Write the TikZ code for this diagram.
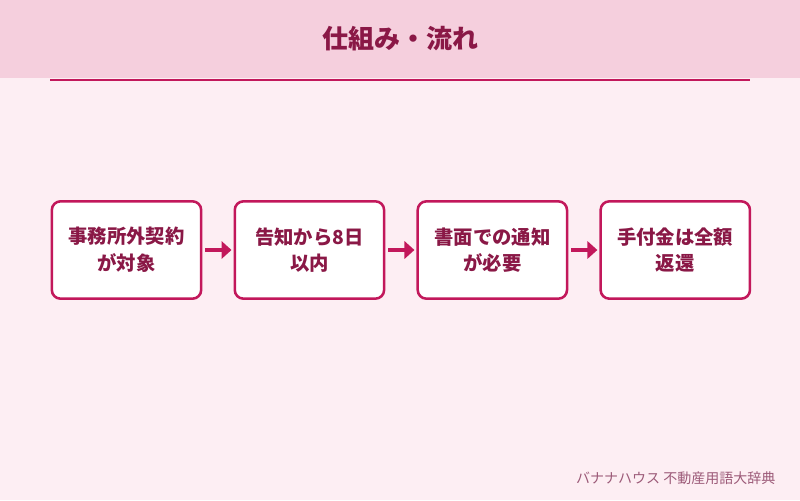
\documentclass[tikz,border=0pt]{standalone}
\usepackage{fontspec}
\setmainfont{Noto Sans CJK JP}
\usetikzlibrary{arrows.meta,positioning}
\definecolor{pagebg}{HTML}{FDEEF3}
\definecolor{headbg}{HTML}{F5CFDD}
\definecolor{rose}{HTML}{C2185B}
\definecolor{wine}{HTML}{8A1846}
\definecolor{muted}{HTML}{9C5A78}
\tikzset{
  every node/.style={text=wine},
  stepbox/.style={draw=rose, fill=white, line width=1.9pt, rounded corners=6.5pt,
                  minimum width=112pt, minimum height=73pt, align=center,
                  font=\bfseries\fontsize{14.5}{20}\selectfont, inner sep=0pt},
  flow/.style={-{Triangle[length=7.5pt, width=13pt]}, line width=3pt, draw=rose,
               shorten <=2pt, shorten >=1.5pt},
}
\begin{document}
\begin{tikzpicture}[x=0.75pt, y=-0.75pt, node distance=23.3pt]
  \useasboundingbox (0,0) rectangle (800,500);
  \fill[pagebg] (0,0) rectangle (800,500);
  \fill[headbg] (0,0) rectangle (800,78);
  \node[font=\bfseries\fontsize{19.5}{22}\selectfont] (title) at (400,39) {仕組み・流れ};
  \coordinate (ruleL) at (50,80);
  \coordinate (ruleR) at (750,80);
  \draw[rose, line width=1.5pt] (ruleL) -- (ruleR);

  \node[stepbox] (s1) at (126.5,250) {事務所外契約\\が対象};
  \node[stepbox, right=of s1] (s2) {告知から8日\\以内};
  \node[stepbox, right=of s2] (s3) {書面での通知\\が必要};
  \node[stepbox, right=of s3] (s4) {手付金は全額\\返還};

  \foreach \a/\b in {s1/s2,s2/s3,s3/s4} { \draw[flow] (\a.east) -- (\b.west); }

  \node[anchor=east, text=muted, font=\fontsize{10.5}{12}\selectfont] (credit) at (780,478) {バナナハウス 不動産用語大辞典};
\end{tikzpicture}
\end{document}
